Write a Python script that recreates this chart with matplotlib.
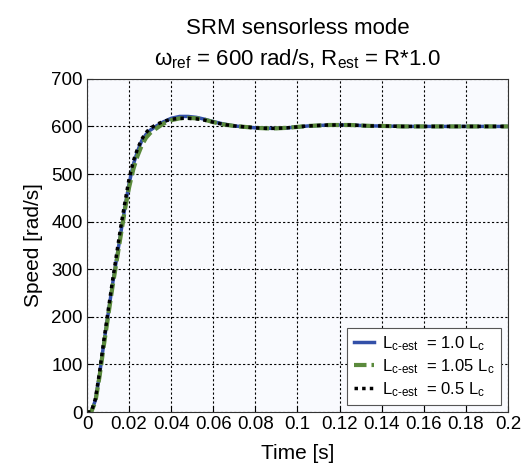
import matplotlib
matplotlib.use('Agg')
import matplotlib.pyplot as plt

plt.rcParams['font.family'] = ['Liberation Sans', 'DejaVu Sans']
plt.rcParams['mathtext.fontset'] = 'custom'
plt.rcParams['mathtext.rm'] = 'Liberation Sans'
plt.rcParams['mathtext.it'] = 'Liberation Sans'

# time samples [s]
t = [0, .002, .004, .006, .008, .010, .012, .014, .016, .018, .020, .022,
     .024, .026, .028, .030, .033, .036, .040, .044, .048, .052, .056, .060,
     .065, .070, .075, .080, .085, .090, .095, .100, .105, .110, .115, .120,
     .125, .130, .135, .140, .150, .160, .170, .180, .190, .200]

# speed [rad/s]
speed_10 = [0, 0, 25, 80, 145, 205, 265, 320, 375, 430, 480, 520,
            548, 570, 583, 592, 601, 609, 617, 621, 621, 619, 615, 610,
            605, 601, 599, 597, 596, 596, 597, 599, 601, 602, 603, 603,
            603, 602, 601, 601, 600, 600, 600, 600, 600, 600]
speed_105 = [0, 0, 22, 76, 140, 200, 260, 315, 370, 425, 472, 510,
             538, 560, 576, 586, 596, 605, 613, 617, 618, 617, 614, 609,
             604, 601, 599, 597, 596, 596, 597, 599, 601, 602, 603, 603,
             603, 602, 601, 601, 600, 600, 600, 600, 600, 600]
speed_05 = [0, 0, 28, 85, 150, 212, 272, 330, 388, 440, 490, 527,
            553, 573, 587, 596, 604, 610, 615, 617, 617, 616, 613, 609,
            604, 601, 599, 597, 596, 596, 597, 599, 601, 602, 603, 603,
            603, 602, 601, 601, 600, 600, 600, 600, 600, 600]

labels = [r'$\mathregular{L_{c‐est}}$  = 1.0 L$\mathregular{_c}$',
          r'$\mathregular{L_{c‐est}}$  = 1.05 L$\mathregular{_c}$',
          r'$\mathregular{L_{c‐est}}$  = 0.5 L$\mathregular{_c}$']

fig = plt.figure(figsize=(5.21, 4.72), dpi=100)
ax = fig.add_axes([0.167, 0.127, 0.808, 0.706])
ax.set_facecolor('#f9fafe')

ax.plot(t, speed_10, color='#3350a8', lw=2.5, label=labels[0])
ax.plot(t, speed_105, color='#5b8a3c', lw=3, ls=(0, (3, 1.2)), label=labels[1])
ax.plot(t, speed_05, color='black', lw=2.5, ls=(0, (1, 1.2)), label=labels[2])

ax.set_xlim(0, 0.2)
ax.set_ylim(0, 700)
ax.set_xticks([0, .02, .04, .06, .08, .1, .12, .14, .16, .18, .2])
ax.set_xticklabels(['0', '0.02', '0.04', '0.06', '0.08', '0.1', '0.12',
                    '0.14', '0.16', '0.18', '0.2'])
ax.set_yticks(range(0, 701, 100))
ax.grid(True, color='black', ls=(0, (2, 2)), lw=0.8)
ax.tick_params(labelsize=13.5, direction='in', length=4, pad=3)
for s in ax.spines.values():
    s.set_color('#333333')

ax.set_xlabel('Time [s]', fontsize=15, labelpad=8)
ax.set_ylabel('Speed [rad/s]', fontsize=15, labelpad=6)
ax.set_title('SRM sensorless mode\n'
             r'$\mathregular{\omega_{ref}}$ = 600 rad/s, R$\mathregular{_{est}}$ = R*1.0',
             fontsize=16, pad=10, linespacing=1.45)

leg = ax.legend(loc='lower right', fontsize=12, fancybox=False,
                edgecolor='#555555', framealpha=1, handlelength=1.2,
                handletextpad=0.5, borderaxespad=0.4, labelspacing=0.25)
leg.get_frame().set_linewidth(0.8)

fig.savefig('out.png', dpi=100)
